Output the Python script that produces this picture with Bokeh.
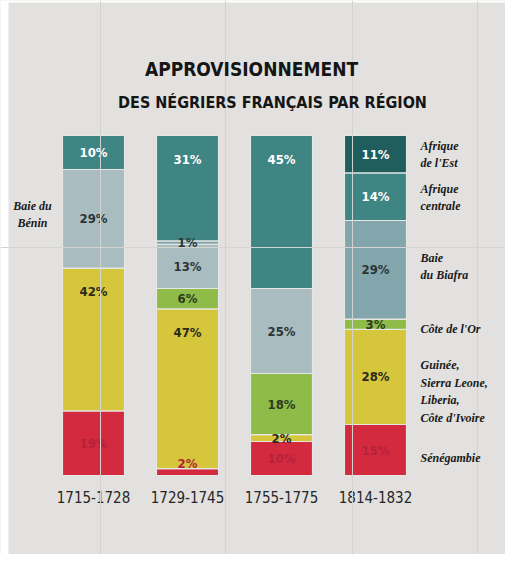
from bokeh.plotting import figure
from bokeh.models import ColumnDataSource, Range1d, FixedTicker, Span, Label, BoxAnnotation
from bokeh.core.properties import value
from bokeh.embed import file_html
from bokeh.resources import INLINE

# ---- data ----
periods = ["1715-1728", "1729-1745", "1755-1775", "1814-1832"]
regions = ["Sénégambie", "Guinée", "Côte de l'Or", "Baie du Bénin",
           "Baie du Biafra", "Afrique centrale", "Afrique de l'Est"]
senegambie = [19, 2, 10, 15]
guinee = [42, 47, 2, 28]
cote_or = [0, 6, 18, 3]
benin = [29, 13, 25, 0]
biafra = [0, 1, 0, 29]
centrale = [10, 31, 45, 14]
est = [0, 0, 0, 11]
series = [senegambie, guinee, cote_or, benin, biafra, centrale, est]

colors = ["#d42a40", "#d5c63c", "#8fbb48", "#a9bdc1", "#82a6ac", "#3f8584", "#1f5e5c"]
label_colors = ["#b4223a", "#2b2a1c", "#2c3a20", "#2c3436", "#2c3436", "#ffffff", "#ffffff"]

legend_texts = ["Sénégambie", "Guinée,\nSierra Leone,\nLiberia,\nCôte d'Ivoire", "Côte de l'Or",
                None, "Baie\ndu Biafra", "Afrique\ncentrale", "Afrique\nde l'Est"]
title_lines = ["APPROVISIONNEMENT", "DES NÉGRIERS FRANÇAIS PAR RÉGION"]

FONT = "'DejaVu Sans Condensed', 'Liberation Sans Narrow', 'Roboto Condensed', Roboto"

# ---- figure ----
W, H = 505, 554
px_per_x = 94.0
px_per_y = 3.4
x0 = 1 - 93 / px_per_x

def px2x(px):
    return x0 + (px - 8) / px_per_x

def py2y(py):
    return (483 - py) / px_per_y

p = figure(width=W, height=H, output_backend="svg", toolbar_location=None,
           x_range=Range1d(x0, x0 + W / px_per_x),
           y_range=Range1d(py2y(8 + H), py2y(8)),
           y_axis_location=None, min_border=0)
p.background_fill_color = "#e2e1df"
p.border_fill_color = "#e2e1df"
p.outline_line_color = None
p.xgrid.grid_line_color = None
p.ygrid.grid_line_color = None

# paper edge and faint paper lines
p.add_layout(BoxAnnotation(right=px2x(16), fill_color="white", fill_alpha=1, line_color=None))
p.add_layout(BoxAnnotation(bottom=py2y(10), fill_color="white", fill_alpha=1, line_color=None))
for vx in [108, 233, 360, 485]:
    p.add_layout(Span(location=px2x(vx), dimension="height", line_color="#d2d2cf", line_width=1))
p.add_layout(Span(location=py2y(255), dimension="width", line_color="#d4d4d1", line_width=1))

xs = [1, 2, 3, 4]
data = {"x": xs}
for r, s in zip(regions, series):
    data[r] = s
src = ColumnDataSource(data)
p.vbar_stack(regions, x="x", width=0.66, source=src, color=colors,
             line_color="#e6e6e4", line_width=1.2)

# percentage labels
lx, ly, lt, lc = [], [], [], []
for i, x in enumerate(xs):
    base = 0
    for k, s in enumerate(series):
        v = s[i]
        if v > 0:
            top = base + v
            y = base + v / 2 if v <= 30 else top - 7
            y = max(y, 3.5)
            lx.append(x); ly.append(y); lt.append(f"{v}%"); lc.append(label_colors[k])
        base += v
p.text(x=lx, y=ly, text=lt, text_color=lc, text_align="center", text_baseline="middle",
       text_font=value(FONT), text_font_style="bold", text_font_size="13px")

# x axis: periods, fixed just under the bars
ax = p.xaxis[0]
ax.fixed_location = 0
ax.ticker = FixedTicker(ticks=xs)
ax.major_label_overrides = {x: per for x, per in zip(xs, periods)}
ax.axis_line_color = None
ax.major_tick_line_color = None
ax.minor_tick_line_color = None
ax.major_label_standoff = 9
ax.major_label_text_font = FONT
ax.major_label_text_font_size = "15px"
ax.major_label_text_color = "#262626"

# title
p.add_layout(Label(x=px2x(259), y=py2y(76), text=title_lines[0], text_align="center",
                   text_baseline="middle", text_font=FONT, text_font_style="bold",
                   text_font_size="19px", text_color="#151515"))
p.add_layout(Label(x=px2x(280), y=py2y(110), text=title_lines[1], text_align="center",
                   text_baseline="middle", text_font=FONT, text_font_style="bold",
                   text_font_size="16px", text_color="#151515"))

# legend labels aligned to the last column's segments
leg_y = {0: 465, 1: 399, 2: 336, 4: 274, 5: 205, 6: 162}
for k, t in enumerate(legend_texts):
    if t is None:
        continue
    p.add_layout(Label(x=px2x(428), y=py2y(leg_y[k]), text=t, text_align="left",
                       text_baseline="middle", text_font="Liberation Serif",
                       text_font_style="bold italic", text_font_size="12px",
                       text_line_height=1.25, text_color="#1a1a1a"))
p.add_layout(Label(x=px2x(40), y=py2y(222), text="Baie du\nBénin", text_align="center",
                   text_baseline="middle", text_font="Liberation Serif",
                   text_font_style="bold italic", text_font_size="12px",
                   text_line_height=1.25, text_color="#1a1a1a"))

open("out.html", "w").write(file_html(p, INLINE))
